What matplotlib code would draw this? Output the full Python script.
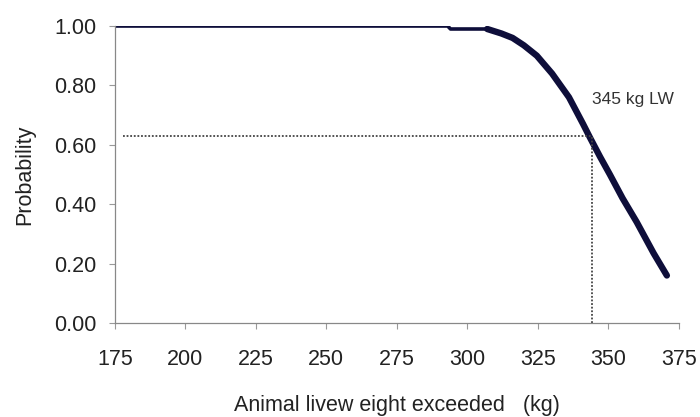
import matplotlib

matplotlib.use("Agg")
import matplotlib.pyplot as plt

# exceedance curve
liveweight = [175, 250, 293, 294, 300, 305.5, 307, 312, 316, 320, 324.6, 330, 336, 341,
              343.4, 347, 350.5, 355, 360, 366, 370.7]
probability = [1.0, 1.0, 1.0, 0.99, 0.99, 0.99, 0.99, 0.975, 0.96, 0.935, 0.90,
               0.84, 0.76, 0.67, 0.625, 0.56, 0.50, 0.42, 0.34, 0.235, 0.16]

marker_lw = 344
marker_p = 0.63
marker_label = "345 kg LW"

x_ticks = [175, 200, 225, 250, 275, 300, 325, 350, 375]
y_ticks = [0.0, 0.2, 0.4, 0.6, 0.8, 1.0]

plt.rcParams["font.family"] = ["Liberation Sans", "DejaVu Sans"]

fig = plt.figure(figsize=(7.0, 4.17), dpi=100)
ax = fig.add_axes([0.164, 0.2254, 0.806, 0.7122])

line_col = "#0e0e3a"
ax.plot(liveweight, probability, color=line_col, lw=2.6, solid_capstyle="round")
# decline part of the curve is drawn heavier in the original
k = 6
ax.plot(liveweight[k:], probability[k:], color=line_col, lw=4.6, solid_capstyle="round",
        solid_joinstyle="round")

ax.plot([178, marker_lw], [marker_p, marker_p], color="#444444", lw=1.3, ls=(0, (1, 1)))
ax.plot([marker_lw, marker_lw], [0, marker_p], color="#444444", lw=1.3, ls=(0, (1, 1)))
ax.text(marker_lw + 0.3, 0.753, marker_label, fontsize=12.5, color="#333333",
        va="center", ha="left")

ax.set_xlim(175, 375)
ax.set_ylim(0, 1.0)
ax.set_xticks(x_ticks)
ax.set_yticks(y_ticks)
ax.set_yticklabels([f"{v:.2f}" for v in y_ticks])
ax.tick_params(labelsize=15.5, colors="#999999", labelcolor="#222222", length=4, width=0.8)
ax.tick_params(axis="x", pad=15)
ax.tick_params(axis="y", pad=9)

for s in ["top", "right"]:
    ax.spines[s].set_visible(False)
for s in ["left", "bottom"]:
    ax.spines[s].set_color("#888888")
    ax.spines[s].set_linewidth(0.9)

ax.set_ylabel("Probability", fontsize=15.5, color="#222222", labelpad=14)
ax.set_xlabel("Animal livew eight exceeded   (kg)", fontsize=15.5, color="#222222",
              labelpad=18)

fig.savefig("out.png", dpi=100)
